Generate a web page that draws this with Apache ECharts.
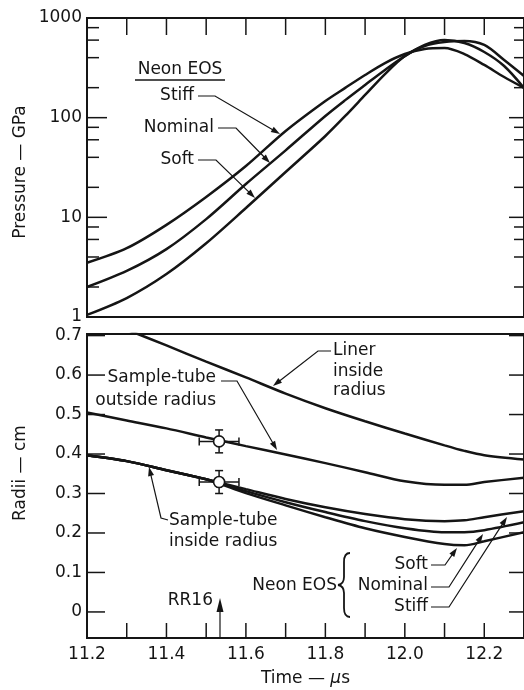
<!DOCTYPE html>
<html>
<head>
<meta charset="utf-8">
<script src="https://cdn.jsdelivr.net/npm/echarts@6/dist/echarts.min.js"></script>
<style>
  html, body { margin: 0; padding: 0; background: #fff; }
  #chart { width: 524px; height: 690px; }
</style>
</head>
<body>
<div id="chart"></div>
<script>
// time axis (µs)
const tMin = 11.2
const tMax = 12.3
const timeTicks = [11.3, 11.4, 11.5, 11.6, 11.7, 11.8, 11.9, 12.0, 12.1, 12.2]
const timeLabels = [11.2, 11.4, 11.6, 11.8, 12.0, 12.2]

// pressure panel (GPa, log)
const pMin = 1
const pMax = 1000
const pressureLabels = [1, 10, 100, 1000]
const pressureMinor = [2, 4, 6, 8, 20, 40, 60, 80, 200, 400, 600, 800]
const timeP = [11.2, 11.3, 11.4, 11.5, 11.6, 11.7, 11.8, 11.85, 11.9, 11.95, 12.0, 12.05, 12.1, 12.15, 12.2, 12.25, 12.3]
const pStiff = [3.5, 4.9, 8.4, 16.0, 32.7, 73.5, 147, 199, 268, 353, 435, 489, 500, 435, 338, 256, 199]
const pNominal = [2.0, 2.9, 4.8, 9.6, 21.6, 47, 104, 150, 213, 301, 415, 536, 601, 561, 456, 330, 199]
const pSoft = [1.05, 1.55, 2.7, 5.5, 12.4, 28.5, 65.5, 104, 169, 274, 416, 524, 574, 588, 536, 379, 262]

// radii panel (cm)
const rMin = -0.066
const rMax = 0.704
const radiusTicks = [0, 0.1, 0.2, 0.3, 0.4, 0.5, 0.6, 0.7]
const timeR = [11.2, 11.3, 11.4, 11.5, 11.6, 11.7, 11.8, 11.9, 12.0, 12.1, 12.15, 12.2, 12.3]
const linerR = [0.755, 0.715, 0.675, 0.634, 0.594, 0.553, 0.516, 0.483, 0.452, 0.422, 0.408, 0.397, 0.386]
const outsideR = [0.505, 0.485, 0.465, 0.442, 0.420, 0.399, 0.377, 0.354, 0.331, 0.322, 0.322, 0.329, 0.340]
const insideStiffR = [0.397, 0.382, 0.359, 0.336, 0.311, 0.286, 0.265, 0.248, 0.235, 0.230, 0.232, 0.240, 0.255]
const insideNominalR = [0.397, 0.382, 0.359, 0.336, 0.306, 0.278, 0.253, 0.230, 0.212, 0.202, 0.202, 0.207, 0.227]
const insideSoftR = [0.397, 0.382, 0.359, 0.336, 0.301, 0.270, 0.240, 0.212, 0.190, 0.172, 0.169, 0.179, 0.202]

// RR16 measurements with error bars
const measT = [11.5325, 11.5325]
const measR = [0.432, 0.329]
const measTErr = [0.05, 0.05]
const measRErr = [0.029, 0.029]

const ink = '#151515'
const font = '"DejaVu Sans", sans-serif'

function pairs(xs, ys) {
  return xs.map((x, i) => [x, ys[i]])
}

function curve(name, xs, ys, xi, yi) {
  return {
    name: name,
    type: 'line',
    xAxisIndex: xi,
    yAxisIndex: yi,
    data: pairs(xs, ys),
    smooth: 0.3,
    symbol: 'none',
    lineStyle: { color: ink, width: 2.5 },
    z: 3
  }
}

// inward tick marks, placed through the axis scales: [x, y, dx px, dy px]
function tickSeries(xi, yi, rows) {
  return {
    type: 'custom',
    xAxisIndex: xi,
    yAxisIndex: yi,
    z: 6,
    silent: true,
    data: rows,
    renderItem: (params, api) => {
      const p = api.coord([api.value(0), api.value(1)])
      return {
        type: 'line',
        shape: { x1: p[0], y1: p[1], x2: p[0] + api.value(2), y2: p[1] + api.value(3) },
        style: { stroke: ink, lineWidth: 1.5 }
      }
    }
  }
}

function label(text, x, y, align) {
  return {
    type: 'text', x: x, y: y, z: 10,
    style: {
      text: text, font: '17px ' + font, fill: ink,
      textAlign: align || 'left', align: align || 'left',
      textVerticalAlign: 'middle', verticalAlign: 'middle'
    }
  }
}

// leader line with an arrow head at its last point
function leader(pts, size, half) {
  size = size || 9
  half = half || 3
  const a = pts[pts.length - 2]
  const b = pts[pts.length - 1]
  const dx = b[0] - a[0]
  const dy = b[1] - a[1]
  const len = Math.sqrt(dx * dx + dy * dy)
  const ux = dx / len
  const uy = dy / len
  const bx = b[0] - ux * size
  const by = b[1] - uy * size
  const line = pts.slice(0, -1).concat([[bx + ux * 2, by + uy * 2]])
  return [
    { type: 'polyline', z: 10, shape: { points: line }, style: { stroke: ink, lineWidth: 1.2, fill: null } },
    {
      type: 'polygon', z: 10,
      shape: { points: [b, [bx - uy * half, by + ux * half], [bx + uy * half, by - ux * half]] },
      style: { fill: ink }
    }
  ]
}

// curly brace built from curve pieces
function brace(x, y0, y1, w) {
  const mid = (y0 + y1) / 2
  const s = { stroke: ink, lineWidth: 1.8, fill: null }
  const xi = x - w
  const xt = x - 2 * w
  return [
    { type: 'bezierCurve', z: 10, shape: { x1: x, y1: y0, cpx1: xi, cpy1: y0, x2: xi, y2: y0 + 9 }, style: s },
    { type: 'line', z: 10, shape: { x1: xi, y1: y0 + 9, x2: xi, y2: mid - 8 }, style: s },
    { type: 'bezierCurve', z: 10, shape: { x1: xi, y1: mid - 8, cpx1: xi, cpy1: mid - 1, x2: xt, y2: mid }, style: s },
    { type: 'bezierCurve', z: 10, shape: { x1: xt, y1: mid, cpx1: xi, cpy1: mid + 1, x2: xi, y2: mid + 8 }, style: s },
    { type: 'line', z: 10, shape: { x1: xi, y1: mid + 8, x2: xi, y2: y1 - 9 }, style: s },
    { type: 'bezierCurve', z: 10, shape: { x1: xi, y1: y1 - 9, cpx1: xi, cpy1: y1, x2: x, y2: y1 }, style: s }
  ]
}

const topTicks = [].concat(
  timeTicks.map(t => [t, pMax, 0, 17]),
  pressureLabels.map(v => [tMin, v, 20, 0]),
  pressureMinor.map(v => [tMin, v, 12, 0]),
  pressureLabels.map(v => [tMax, v, -15, 0]),
  pressureMinor.map(v => [tMax, v, -10, 0])
)
const bottomTicks = [].concat(
  timeTicks.map(t => [t, rMin, 0, -15]),
  radiusTicks.map(v => [tMin, v, 18, 0]),
  radiusTicks.map(v => [tMax, v, -15, 0])
)

const chart = echarts.init(document.getElementById('chart'))

const option = {
  animation: false,
  backgroundColor: '#fff',
  grid: [
    { left: 87, top: 18, width: 440, height: 299, show: true, borderColor: ink, borderWidth: 2 },
    { left: 87, top: 334, width: 440, height: 304, show: true, borderColor: ink, borderWidth: 2 }
  ],
  xAxis: [
    {
      gridIndex: 0, type: 'value', min: tMin, max: tMax, position: 'top',
      axisLine: { onZero: false, lineStyle: { color: ink, width: 2 } },
      axisTick: { show: false },
      axisLabel: { show: false },
      splitLine: { show: false }
    },
    {
      gridIndex: 1, type: 'value', min: tMin, max: tMax, position: 'bottom',
      axisLine: { onZero: false, lineStyle: { color: ink, width: 2 } },
      axisTick: { show: false },
      axisLabel: {
        customValues: timeLabels, margin: 8, color: ink, fontSize: 17, fontFamily: font,
        formatter: v => v.toFixed(1)
      },
      splitLine: { show: false },
      name: 'Time — {it|µ}s',
      nameLocation: 'middle',
      nameGap: 32,
      nameTextStyle: {
        color: ink, fontSize: 17, fontFamily: font,
        rich: { it: { fontStyle: 'italic', fontSize: 17, fontFamily: font, color: ink } }
      }
    }
  ],
  yAxis: [
    {
      gridIndex: 0, type: 'log', logBase: 10, min: pMin, max: pMax, position: 'left',
      axisLine: { show: true, onZero: false, lineStyle: { color: ink, width: 2 } },
      axisTick: { show: false },
      axisLabel: {
        customValues: pressureLabels, margin: 5, color: ink, fontSize: 17, fontFamily: font,
        formatter: v => String(Math.round(v))
      },
      splitLine: { show: false }
    },
    {
      gridIndex: 1, type: 'value', min: rMin, max: rMax, position: 'left',
      axisLine: { show: true, onZero: false, lineStyle: { color: ink, width: 2 } },
      axisTick: { show: false },
      axisLabel: {
        customValues: radiusTicks, margin: 5, color: ink, fontSize: 17, fontFamily: font,
        formatter: v => (Math.abs(v) < 1e-9 ? '0' : v.toFixed(1))
      },
      splitLine: { show: false }
    }
  ],
  series: [
    curve('Stiff', timeP, pStiff, 0, 0),
    curve('Nominal', timeP, pNominal, 0, 0),
    curve('Soft', timeP, pSoft, 0, 0),
    curve('Liner inside radius', timeR, linerR, 1, 1),
    curve('Sample-tube outside radius', timeR, outsideR, 1, 1),
    curve('Inside Stiff', timeR, insideStiffR, 1, 1),
    curve('Inside Nominal', timeR, insideNominalR, 1, 1),
    curve('Inside Soft', timeR, insideSoftR, 1, 1),
    tickSeries(0, 0, topTicks),
    tickSeries(1, 1, bottomTicks),
    {
      type: 'custom',
      xAxisIndex: 1,
      yAxisIndex: 1,
      z: 4,
      data: measT.map((t, i) => [t, measR[i], measTErr[i], measRErr[i]]),
      renderItem: (params, api) => {
        const t = api.value(0)
        const r = api.value(1)
        const c = api.coord([t, r])
        const l = api.coord([t - api.value(2), r])
        const rt = api.coord([t + api.value(2), r])
        const up = api.coord([t, r + api.value(3)])
        const dn = api.coord([t, r - api.value(3)])
        const s = { stroke: ink, lineWidth: 1.5 }
        const cap = 4
        return {
          type: 'group',
          children: [
            { type: 'line', shape: { x1: l[0], y1: c[1], x2: rt[0], y2: c[1] }, style: s },
            { type: 'line', shape: { x1: c[0], y1: up[1], x2: c[0], y2: dn[1] }, style: s },
            { type: 'line', shape: { x1: l[0], y1: c[1] - cap, x2: l[0], y2: c[1] + cap }, style: s },
            { type: 'line', shape: { x1: rt[0], y1: c[1] - cap, x2: rt[0], y2: c[1] + cap }, style: s },
            { type: 'line', shape: { x1: c[0] - cap, y1: up[1], x2: c[0] + cap, y2: up[1] }, style: s },
            { type: 'line', shape: { x1: c[0] - cap, y1: dn[1], x2: c[0] + cap, y2: dn[1] }, style: s }
          ]
        }
      }
    },
    {
      type: 'scatter',
      xAxisIndex: 1,
      yAxisIndex: 1,
      z: 5,
      data: pairs(measT, measR),
      symbol: 'circle',
      symbolSize: 11,
      itemStyle: { color: '#fff', opacity: 1, borderColor: ink, borderWidth: 1.6 }
    }
  ],
  graphic: [
    // axis names
    {
      type: 'text', x: 21, y: 172, rotation: Math.PI / 2,
      style: { text: 'Pressure — GPa', font: '17px ' + font, fill: ink, textAlign: 'center', align: 'center', textVerticalAlign: 'middle', verticalAlign: 'middle' }
    },
    {
      type: 'text', x: 21, y: 473, rotation: Math.PI / 2,
      style: { text: 'Radii — cm', font: '17px ' + font, fill: ink, textAlign: 'center', align: 'center', textVerticalAlign: 'middle', verticalAlign: 'middle' }
    },
    // top panel legend
    label('Neon EOS', 180, 70, 'center'),
    { type: 'line', z: 10, shape: { x1: 135, y1: 80, x2: 225, y2: 80 }, style: { stroke: ink, lineWidth: 1.3 } },
    label('Stiff', 194, 96, 'right'),
    label('Nominal', 214, 128, 'right'),
    label('Soft', 194, 160, 'right'),
    ...leader([[198, 96], [215, 96], [280, 134]]),
    ...leader([[218, 128], [236, 128], [270, 163]]),
    ...leader([[198, 160], [216, 160], [255, 198]]),
    // bottom panel labels
    label('Liner', 333, 351, 'left'),
    label('inside', 333, 372, 'left'),
    label('radius', 333, 391, 'left'),
    ...leader([[331, 351], [318, 351], [273, 386]]),
    label('Sample-tube', 216, 378, 'right'),
    label('outside radius', 216, 401, 'right'),
    ...leader([[221, 381], [237, 381], [277, 450]]),
    label('Sample-tube', 169, 521, 'left'),
    label('inside radius', 169, 542, 'left'),
    ...leader([[168, 520], [161, 518], [149, 467]]),
    label('Neon EOS', 337, 586, 'right'),
    ...brace(350, 553, 617, 6),
    label('Soft', 428, 565, 'right'),
    label('Nominal', 428, 586, 'right'),
    label('Stiff', 428, 607, 'right'),
    ...leader([[431, 565], [445, 565], [457, 548]]),
    ...leader([[431, 587], [449, 587], [483, 534]]),
    ...leader([[431, 607], [449, 607], [507, 517]]),
    // RR16 marker
    label('RR16', 213, 601, 'right'),
    ...leader([[220, 637], [220, 598]], 14, 3.5)
  ]
}

chart.setOption(option)
</script>
</body>
</html>
